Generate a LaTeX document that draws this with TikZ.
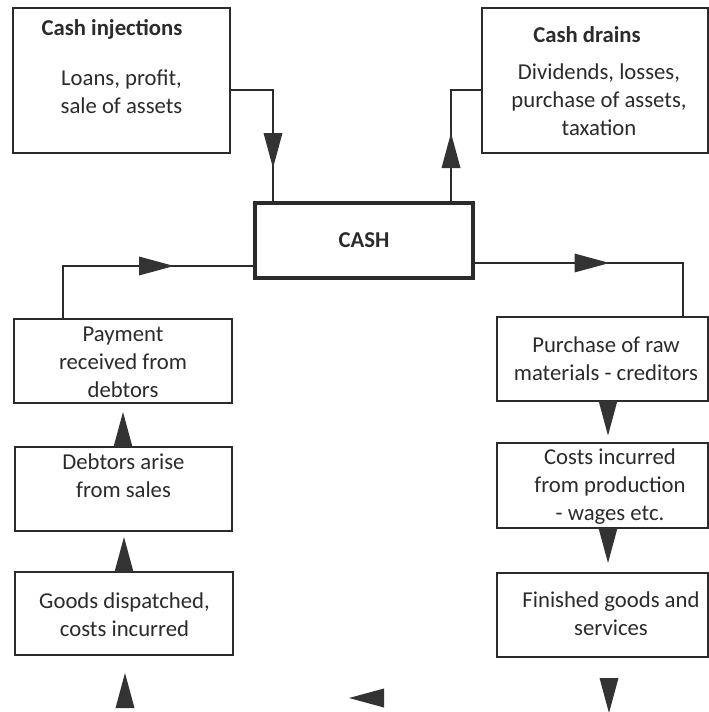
\documentclass[tikz,border=0pt]{standalone}
\usepackage{fontspec}
\setmainfont{Carlito}
\definecolor{ink}{HTML}{2B2B2B}
\definecolor{tipgray}{HTML}{333333}
\begin{document}
\begin{tikzpicture}[x=1pt,y=-1pt,
  box/.style={draw=ink, line width=1.8pt, inner sep=0pt},
  cashbox/.style={draw=ink, line width=3.5pt, inner sep=0pt,
    font=\fontsize{22.7}{28}\selectfont\bfseries, text=ink},
  txt/.style={inner sep=0pt, align=center, text=ink,
    font=\fontsize{22.7}{28}\selectfont},
  ttl/.style={txt, font=\fontsize{22.7}{28}\selectfont\bfseries},
  flow/.style={draw=ink, line width=1.5pt},
  tri/.pic={\fill[tipgray] (0,17.5) -- (-9.5,-17.5) -- (9.5,-17.5) -- cycle;}]

% page
\fill[white] (0,0) rectangle (709,712);
\useasboundingbox (0,0) rectangle (709,712);

% top boxes
\node[box, minimum width=217pt, minimum height=145pt] (inj) at (121.5,80.5) {};
\node[ttl] (injT) at (112,29) {Cash injections};
\node[txt] (injB) at (121.5,91.5) {Loans, profit,\\sale of assets};

\node[box, minimum width=226pt, minimum height=145pt] (drn) at (595,80.5) {};
\node[ttl] (drnT) at (587,35) {Cash drains};
\node[txt] (drnB) at (599,100) {Dividends, losses,\\purchase of assets,\\taxation};

% central cash box
\node[cashbox, minimum width=218pt, minimum height=75pt] (cash) at (364,240.5) {CASH};

% left column
\node[box, minimum width=218pt, minimum height=84pt] (pay) at (123,361) {};
\node[txt] (payT) at (123,362) {Payment\\received from\\debtors};
\node[box, minimum width=217pt, minimum height=84pt] (deb) at (123.5,489) {};
\node[txt] (debT) at (123.5,475.5) {Debtors arise\\from sales};
\node[box, minimum width=218pt, minimum height=83pt] (gds) at (124,613.5) {};
\node[txt] (gdsT) at (124.5,615) {Goods dispatched,\\costs incurred};

% right column
\node[box, minimum width=211pt, minimum height=84pt] (pur) at (602.5,359) {};
\node[txt] (purT) at (606,358.5) {Purchase of raw\\materials - creditors};
\node[box, minimum width=211pt, minimum height=85pt] (cst) at (602.5,485.5) {};
\node[txt] (cstT) at (610,487) {Costs incurred\\from production\\- wages etc.};
\node[box, minimum width=211pt, minimum height=84pt] (fin) at (602.5,615) {};
\node[txt] (finT) at (611,614) {Finished goods and\\services};

% connectors to and from the cash box
\draw[flow] ([yshift=-9.5pt]inj.east) -| ([xshift=-91pt]cash.north);
\draw[flow] ([xshift=87pt]cash.north) |- ([yshift=-9.5pt]drn.west);
\draw[flow] ([yshift=-25.5pt]cash.west) -| ([xshift=-60pt]pay.north);
\draw[flow] ([yshift=-22.5pt]cash.east) -| ([xshift=80.5pt]pur.north);

% arrowheads
\pic at (273,150.5) {tri};
\pic[rotate=180] at (451,150.5) {tri};
\pic[rotate=90] at (156.5,266) {tri};
\pic[rotate=90] at (592,263) {tri};
\pic at (608,418) {tri};
\pic at (608,545.5) {tri};
\pic at (609,695.5) {tri};
\pic[rotate=-90] at (366.5,698) {tri};
\pic[rotate=180] at (125,690.5) {tri};
\pic[rotate=180] at (123,429.5) {tri};
\pic[rotate=180] at (124,554.5) {tri};
\end{tikzpicture}
\end{document}
